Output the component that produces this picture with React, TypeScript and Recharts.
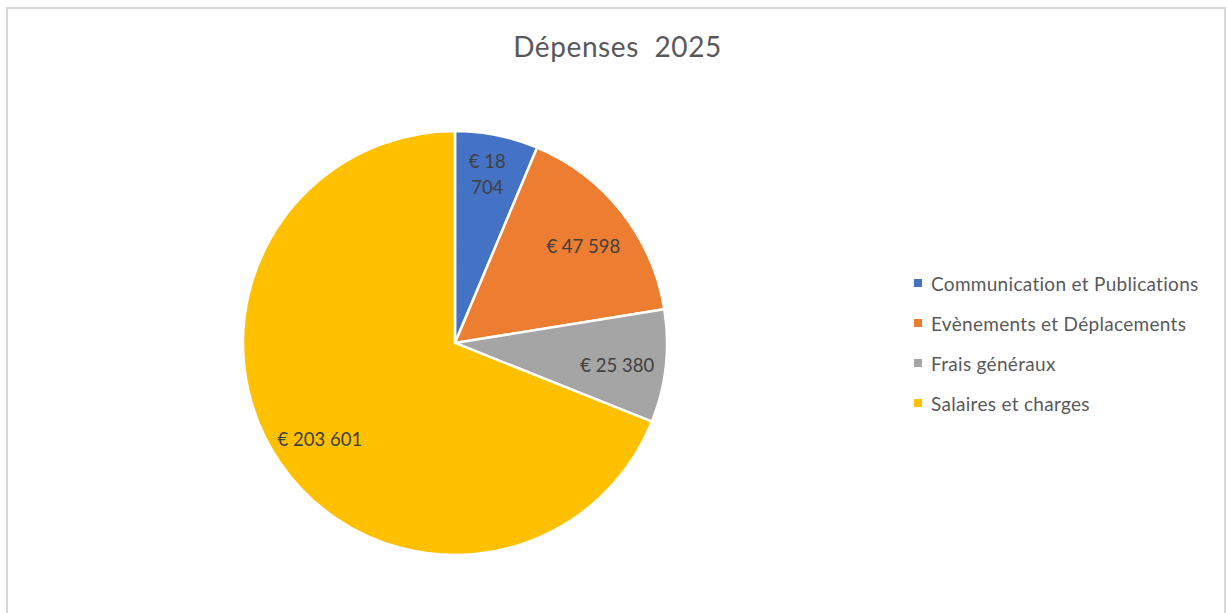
import React from 'react';
import { PieChart, Pie, Cell, Legend } from 'recharts';

const categories = [
  'Communication et Publications',
  'Evènements et Déplacements',
  'Frais généraux',
  'Salaires et charges',
];
const amounts = [18704, 47598, 25380, 203601];
const colors = ['#4472C4', '#ED7D31', '#A5A5A5', '#FFC000'];
const title = 'Dépenses  2025';

const data = categories.map((name, i) => ({ name, value: amounts[i] }));

const FONT = 'Lato, "Open Sans", sans-serif';
const TEXT = '#595959';
const RADIAN = Math.PI / 180;

const fmt = (v: number) => '€ ' + v.toLocaleString('fr-FR').replace(/\s/g, ' ');

const renderLabel = (props: any) => {
  const { cx, cy, midAngle, outerRadius, value, percent } = props;
  const r = outerRadius * 0.77;
  const x = cx + r * Math.cos(-midAngle * RADIAN);
  const y = cy + r * Math.sin(-midAngle * RADIAN);
  const txt = fmt(value);
  // narrow slices get the label wrapped on two lines
  if (percent < 0.07) {
    const parts = txt.split(' ');
    const first = parts.slice(0, parts.length - 1).join(' ');
    const last = parts[parts.length - 1];
    return (
      <text x={x} y={y} fill="#404040" fontSize={18.5} fontFamily={FONT} textAnchor="middle">
        <tspan x={x} dy={-15}>{first}</tspan>
        <tspan x={x} dy={26}>{last}</tspan>
      </text>
    );
  }
  return (
    <text x={x} y={y + 4} fill="#404040" fontSize={18.5} fontFamily={FONT} textAnchor="middle" dominantBaseline="central">
      {txt}
    </text>
  );
};

const renderLegend = () => (
  <div style={{ fontFamily: FONT }}>
    {categories.map((c, i) => (
      <div key={c} style={{ display: 'flex', alignItems: 'center', height: 40 }}>
        <span style={{ width: 8, height: 8, background: colors[i], marginRight: 9, display: 'inline-block' }} />
        <span style={{ fontSize: 19, letterSpacing: 0.3, color: TEXT, whiteSpace: 'nowrap' }}>{c}</span>
      </div>
    ))}
  </div>
);

export default function App() {
  return (
    <div style={{ position: 'fixed', left: 0, top: 0, width: 1227, height: 613, background: '#fff', overflow: 'hidden' }}>
      <div
        style={{
          position: 'absolute',
          left: 6,
          top: 7,
          width: 1216,
          height: 620,
          border: '2px solid #d9d9d9',
          boxSizing: 'content-box',
        }}
      />
      <div
        style={{
          position: 'absolute',
          left: 0,
          width: 1227,
          top: 29,
          textAlign: 'center',
          fontFamily: FONT,
          fontSize: 28,
          letterSpacing: 0.6,
          whiteSpace: 'pre',
          color: TEXT,
          paddingLeft: 4,
        }}
      >
        {title}
      </div>
      <div style={{ position: 'absolute', left: 0, top: 0 }}>
        <PieChart width={1227} height={613}>
          <Pie
            data={data}
            dataKey="value"
            nameKey="name"
            cx={450}
            cy={338}
            outerRadius={212}
            startAngle={90}
            endAngle={-270}
            stroke="#ffffff"
            strokeWidth={2.5}
            label={renderLabel}
            labelLine={false}
            isAnimationActive={false}
          >
            {data.map((d, i) => (
              <Cell key={d.name} fill={colors[i]} />
            ))}
          </Pie>
          <Legend
            content={renderLegend}
            layout="vertical"
            wrapperStyle={{ position: 'absolute', left: 914, top: 263, width: 310 }}
          />
        </PieChart>
      </div>
    </div>
  );
}
